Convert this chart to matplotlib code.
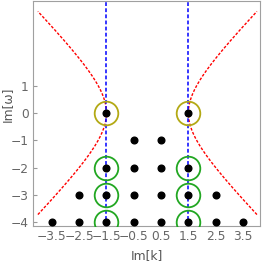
import numpy as np
import matplotlib.pyplot as plt

# lattice points (Im k, Im w)
dot_k = [-1.5, 1.5,
         -0.5, 0.5,
         -1.5, -0.5, 0.5, 1.5,
         -2.5, -1.5, -0.5, 0.5, 1.5, 2.5,
         -3.5, -2.5, -1.5, -0.5, 0.5, 1.5, 2.5, 3.5]
dot_w = [0, 0,
         -1, -1,
         -2, -2, -2, -2,
         -3, -3, -3, -3, -3, -3,
         -4, -4, -4, -4, -4, -4, -4, -4]

# highlighted points
yellow_k = [-1.5, 1.5]
yellow_w = [0, 0]
green_k = [-1.5, -1.5, -1.5, 1.5, 1.5, 1.5]
green_w = [-2, -3, -4, -2, -3, -4]

k0 = 1.5  # branch point / vertical lines
xticks = [-3.5, -2.5, -1.5, -0.5, 0.5, 1.5, 2.5, 3.5]
yticks = [-4, -3, -2, -1, 0, 1]

fig = plt.figure(figsize=(2.62, 2.61), dpi=100)
ax = fig.add_axes([0.126, 0.134, 0.866, 0.862])

# hyperbola x^2 - y^2 = k0^2
wv = np.linspace(-3.72, 3.72, 300)
kv = np.sqrt(k0**2 + wv**2)
for s in (-1, 1):
    ax.plot(s * kv, wv, color='red', lw=1.0, dashes=(2.0, 1.2))
    ax.axvline(s * k0, color='blue', lw=1.1, dashes=(2.5, 1.5))

ax.plot(dot_k, dot_w, 'o', color='black', ms=4.8, zorder=5)
ax.plot(yellow_k, yellow_w, 'o', mfc='none', mec='#b3a914', ms=17, mew=1.3, zorder=6)
ax.plot(green_k, green_w, 'o', mfc='none', mec='#22a722', ms=17, mew=1.3, zorder=6)

ax.set_xlim(-4.19, 4.12)
ax.set_ylim(-4.14, 4.1)
ax.set_xticks(xticks)
ax.set_xticklabels([f'{v:g}'.replace('-', '\u2212') for v in xticks])
ax.set_yticks(yticks)
ax.set_yticklabels([f'{v:g}'.replace('-', '\u2212') for v in yticks])
ax.tick_params(direction='in', length=3, width=0.8, colors='#999999',
               labelcolor='#666666', labelsize=8.8, pad=3)
for sp in ax.spines.values():
    sp.set_color('#a0a0a0')
    sp.set_linewidth(0.8)

ax.set_xlabel('Im[k]', color='#555555', fontsize=8.8, labelpad=4)
ax.set_ylabel('Im[\u03c9]', color='#555555', fontsize=8.8)
ax.yaxis.set_label_coords(-0.085, 0.54)

fig.savefig('out.png', dpi=100)
